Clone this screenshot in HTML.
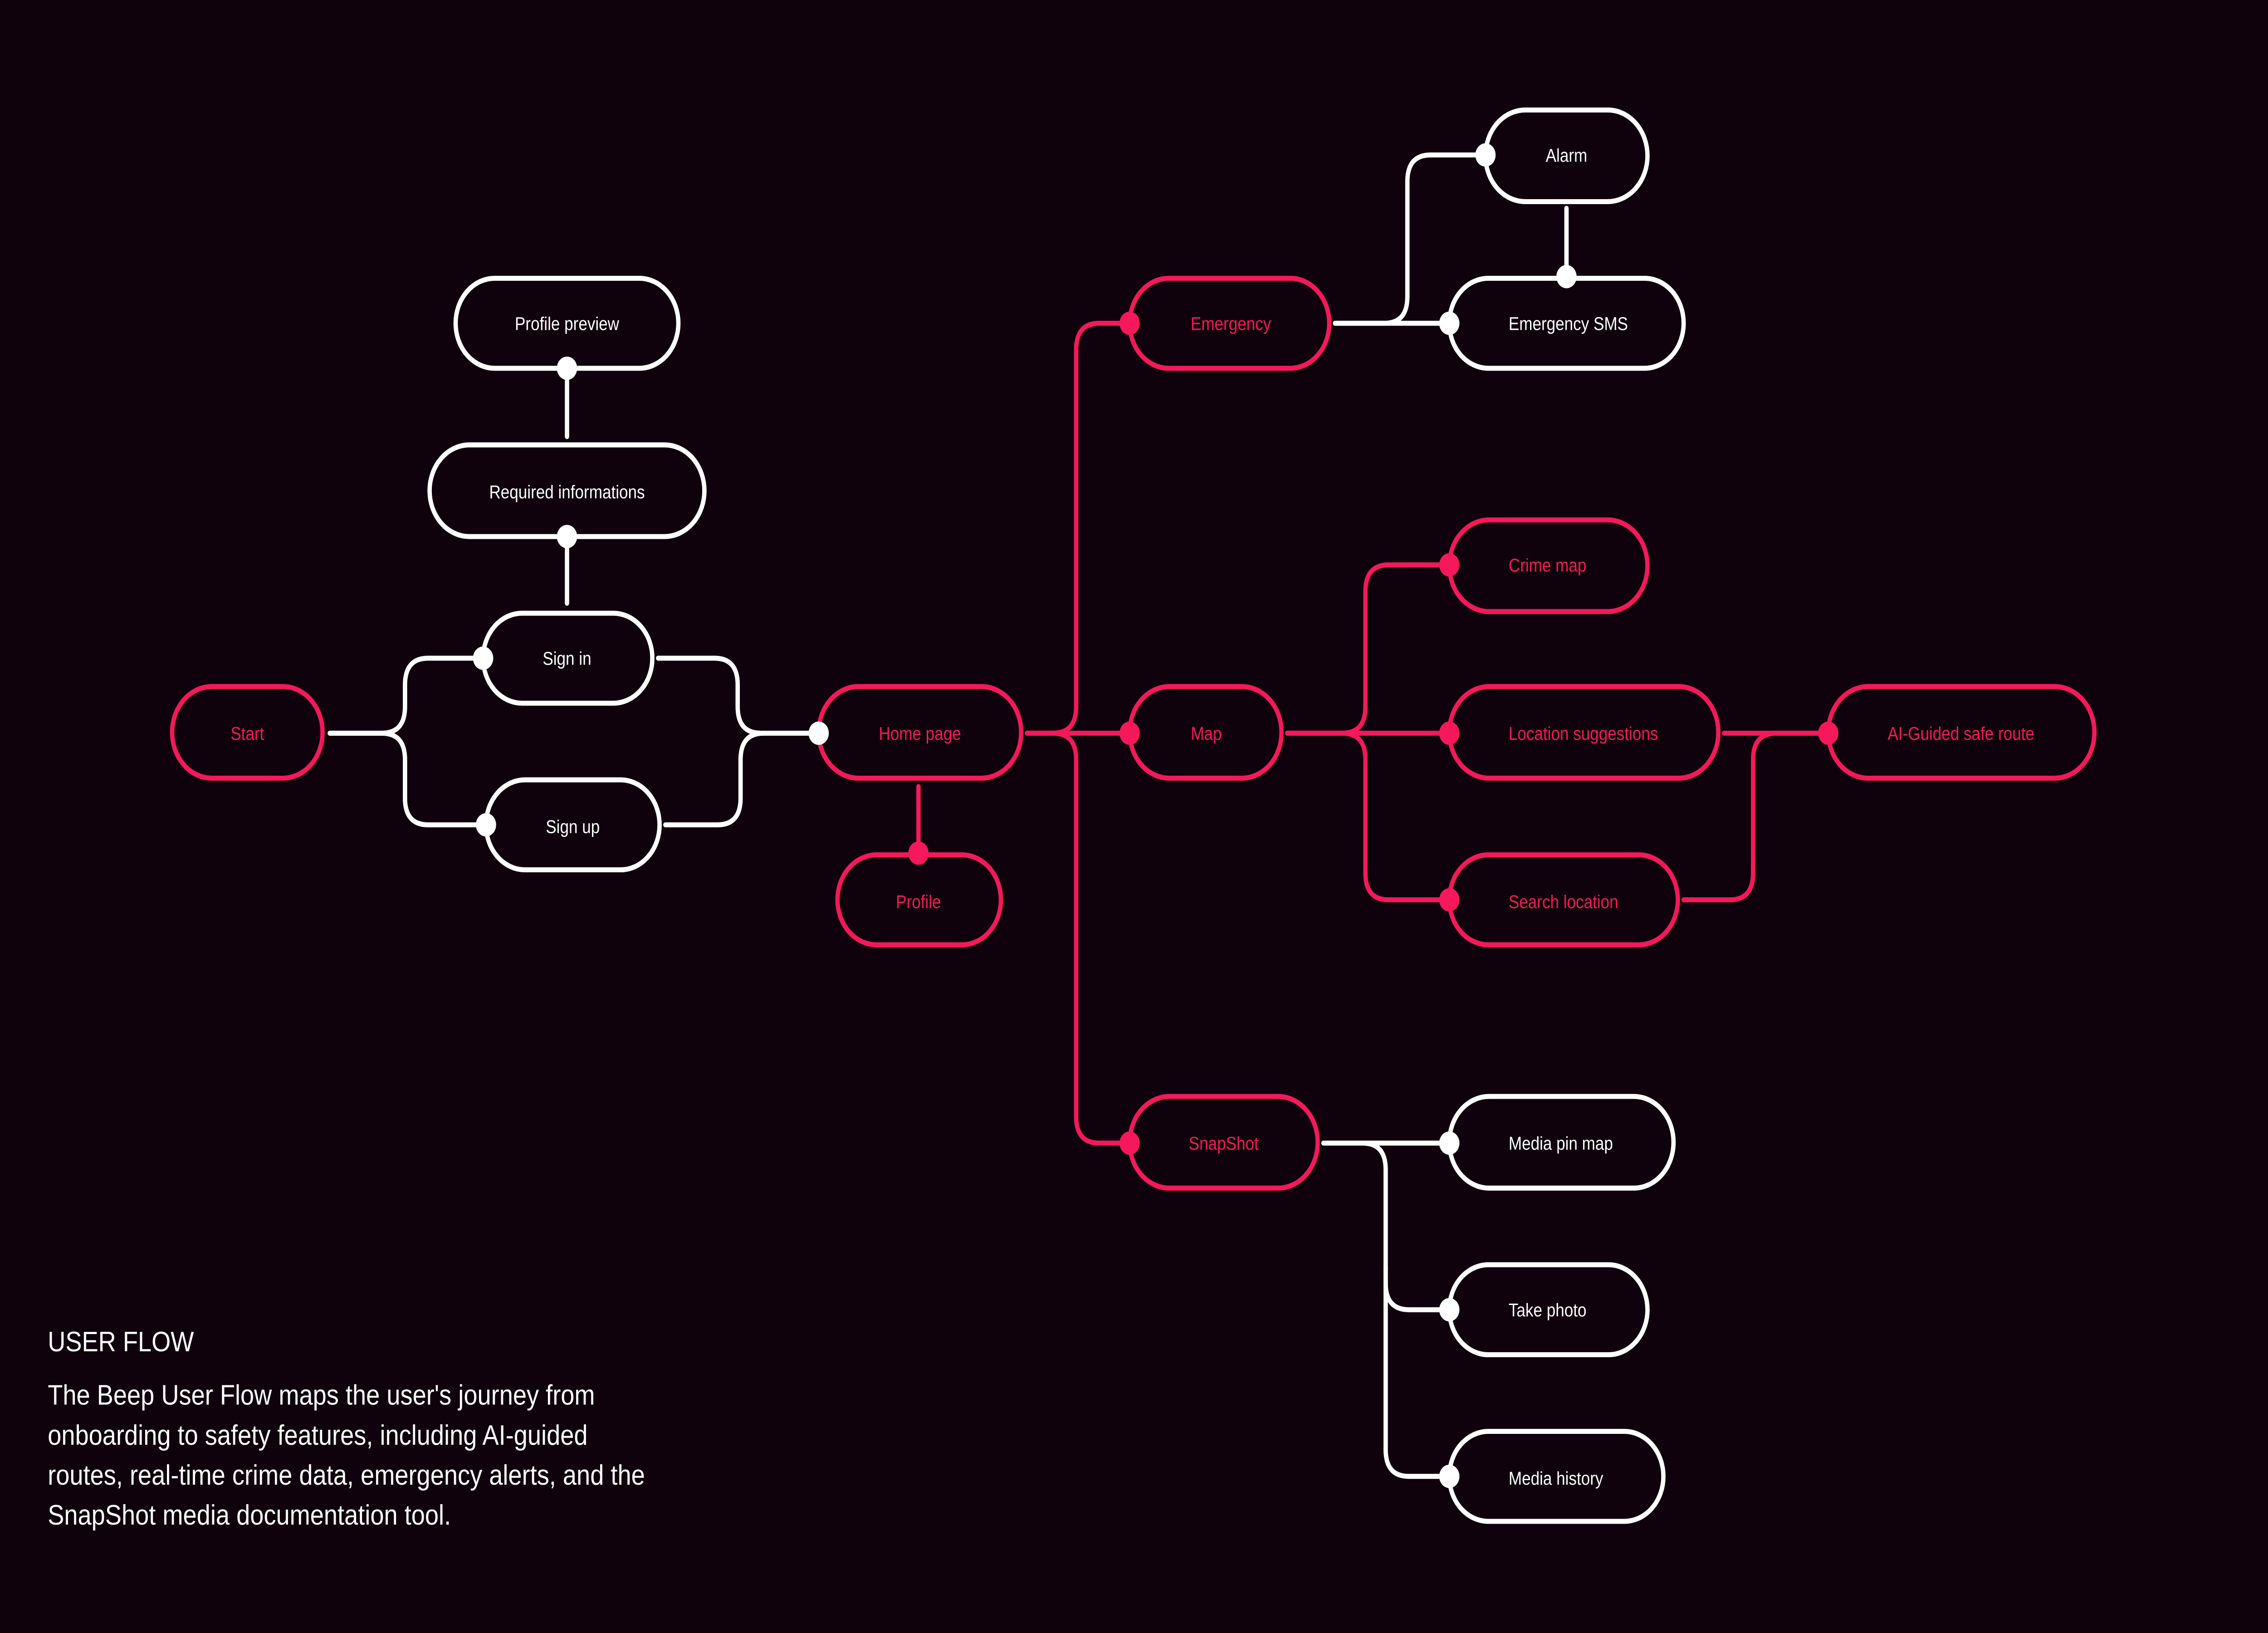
<!DOCTYPE html>
<html><head><meta charset="utf-8"><style>
html,body{margin:0;padding:0;background:#0f020c;overflow:hidden;width:100%;height:100%;}
svg{display:block;position:fixed;left:0;top:0;width:100vw;height:100vh;}
text{font-family:"Liberation Sans",sans-serif;}
</style></head><body>
<svg viewBox="0 0 1568 980" preserveAspectRatio="none" xmlns="http://www.w3.org/2000/svg">
<rect width="1568" height="980" fill="#0f020c"/>
<g fill="none" stroke-width="3" stroke-linecap="round">
<g stroke="#ffffff">
<path d="M228 440 H264 Q280 440 280 424 V411 Q280 395 296 395 H334"/>
<path d="M228 440 H264 Q280 440 280 456 V479 Q280 495 296 495 H336"/>
<path d="M455 395 H494 Q510 395 510 411 V424 Q510 440 526 440 H566"/>
<path d="M460 495 H496 Q512 495 512 479 V456 Q512 440 528 440"/>
<path d="M392 228 V262"/>
<path d="M392 329 V362"/>
<path d="M923 194 H957 Q973 194 973 178 V109 Q973 93 989 93 H1027"/>
<path d="M923 194 H1002"/>
<path d="M1083 125 V166"/>
<path d="M915 686 H942 Q958 686 958 702 V770 Q958 786 974 786 H1002"/>
<path d="M958 760 V870 Q958 886 974 886 H1002"/>
<path d="M915 686 H1002"/>
</g>
<g stroke="#f5185a">
<path d="M710 440 H728 Q744 440 744 424 V210 Q744 194 760 194 H781"/>
<path d="M710 440 H728 Q744 440 744 456 V670 Q744 686 760 686 H781"/>
<path d="M710 440 H781"/>
<path d="M635 472 V512"/>
<path d="M890 440 H1002"/>
<path d="M890 440 H928 Q944 440 944 424 V355 Q944 339 960 339 H1002"/>
<path d="M890 440 H928 Q944 440 944 456 V524 Q944 540 960 540 H1002"/>
<path d="M1192 440 H1264"/>
<path d="M1164 540 H1196 Q1212 540 1212 524 V456 Q1212 440 1228 440 H1264"/>
</g>
<g fill="#0f020c">
<rect x="119" y="412" width="104" height="55" rx="27.5" stroke="#f5185a"/>
<rect x="315" y="167" width="154" height="54" rx="27" stroke="#fff"/>
<rect x="297" y="267" width="190" height="55" rx="27.5" stroke="#fff"/>
<rect x="334" y="368" width="117" height="54" rx="27" stroke="#fff"/>
<rect x="336" y="468" width="120" height="54" rx="27" stroke="#fff"/>
<rect x="566" y="412" width="140" height="55" rx="27.5" stroke="#f5185a"/>
<rect x="579" y="513" width="113" height="54" rx="27" stroke="#f5185a"/>
<rect x="781" y="167" width="138" height="54" rx="27" stroke="#f5185a"/>
<rect x="1027" y="66" width="112" height="55" rx="27.5" stroke="#fff"/>
<rect x="1002" y="167" width="162" height="54" rx="27" stroke="#fff"/>
<rect x="1002" y="312" width="137" height="55" rx="27.5" stroke="#f5185a"/>
<rect x="781" y="412" width="105" height="55" rx="27.5" stroke="#f5185a"/>
<rect x="1002" y="412" width="186" height="55" rx="27.5" stroke="#f5185a"/>
<rect x="1264" y="412" width="184" height="55" rx="27.5" stroke="#f5185a"/>
<rect x="1002" y="513" width="158" height="54" rx="27" stroke="#f5185a"/>
<rect x="781" y="658" width="130" height="55" rx="27.5" stroke="#f5185a"/>
<rect x="1002" y="658" width="155" height="55" rx="27.5" stroke="#fff"/>
<rect x="1002" y="759" width="137" height="54" rx="27" stroke="#fff"/>
<rect x="1002" y="859" width="148" height="54" rx="27" stroke="#fff"/>
</g>
</g>
<g fill="#fff">
<circle cx="334" cy="395" r="7"/><circle cx="336" cy="495" r="7"/><circle cx="566" cy="440" r="7"/>
<circle cx="392" cy="221" r="7"/><circle cx="392" cy="322" r="7"/>
<circle cx="1027" cy="93" r="7"/><circle cx="1083" cy="166" r="7"/><circle cx="1002" cy="194" r="7"/>
<circle cx="1002" cy="686" r="7"/><circle cx="1002" cy="786" r="7"/><circle cx="1002" cy="886" r="7"/>
</g>
<g fill="#f5185a">
<circle cx="635" cy="512" r="7"/><circle cx="781" cy="194" r="7"/><circle cx="781" cy="440" r="7"/><circle cx="781" cy="686" r="7"/>
<circle cx="1002" cy="339" r="7"/><circle cx="1002" cy="440" r="7"/><circle cx="1002" cy="540" r="7"/><circle cx="1264" cy="440" r="7"/>
</g>
<g font-size="11" text-anchor="middle">
<g fill="#f5185a">
<text x="171" y="444">Start</text>
<text x="636" y="444">Home page</text>
<text x="635" y="545">Profile</text>
<text x="851" y="198">Emergency</text>
<text x="834" y="444">Map</text>
<text x="846" y="690">SnapShot</text>
</g>
<g fill="#fff">
<text x="392" y="198">Profile preview</text>
<text x="392" y="299">Required informations</text>
<text x="392" y="399">Sign in</text>
<text x="396" y="500">Sign up</text>
<text x="1083" y="97">Alarm</text>
</g>
</g>
<g font-size="11">
<g fill="#f5185a">
<text x="1043" y="343">Crime map</text>
<text x="1043" y="444">Location suggestions</text>
<text x="1305" y="444">AI-Guided safe route</text>
<text x="1043" y="545">Search location</text>
</g>
<g fill="#fff">
<text x="1043" y="198">Emergency SMS</text>
<text x="1043" y="690">Media pin map</text>
<text x="1043" y="790">Take photo</text>
<text x="1043" y="891">Media history</text>
</g>
</g>
<g fill="#fff" font-size="17">
<text x="33" y="811">USER FLOW</text>
<text x="33" y="843">The Beep User Flow maps the user's journey from</text>
<text x="33" y="867">onboarding to safety features, including AI-guided</text>
<text x="33" y="891">routes, real-time crime data, emergency alerts, and the</text>
<text x="33" y="915">SnapShot media documentation tool.</text>
</g>
</svg>
</body></html>
